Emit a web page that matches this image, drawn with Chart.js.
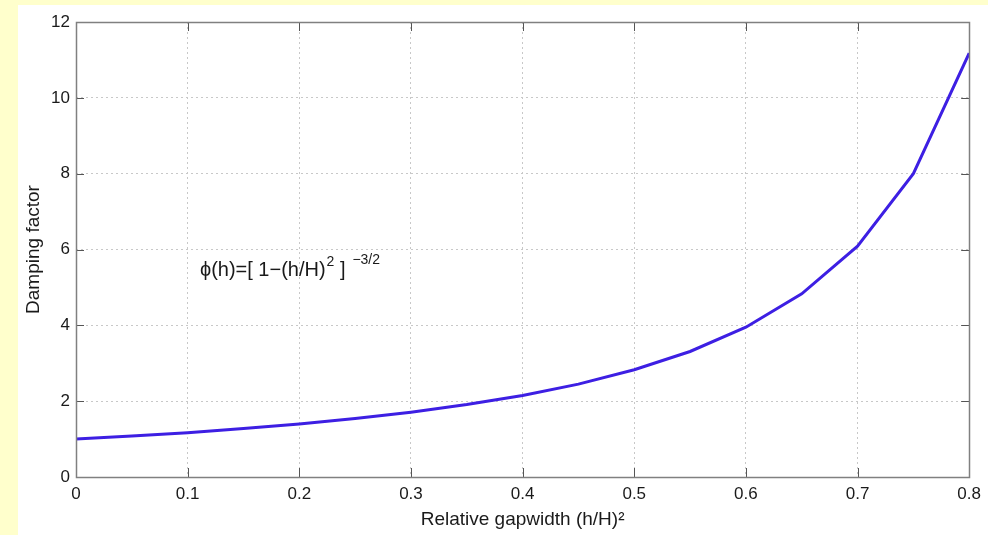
<!DOCTYPE html>
<html>
<head>
<meta charset="utf-8">
<script src="https://cdn.jsdelivr.net/npm/chart.js@4"></script>
<style>
  html, body { margin: 0; padding: 0; background: #ffffcc; }
  canvas { display: block; }
</style>
</head>
<body>
<canvas id="c" width="988" height="535"></canvas>
<script>
// ---- data ----
const gapWidth = [0, 0.05, 0.1, 0.15, 0.2, 0.25, 0.3, 0.35, 0.4, 0.45, 0.5, 0.55, 0.6, 0.65, 0.7, 0.75, 0.8];
const dampingFactor = [1.00, 1.08, 1.17, 1.28, 1.40, 1.54, 1.71, 1.91, 2.15, 2.45, 2.83, 3.31, 3.95, 4.83, 6.09, 8.00, 11.18];
const xTickLabels = ['0', '0.1', '0.2', '0.3', '0.4', '0.5', '0.6', '0.7', '0.8'];
const yTickLabels = ['0', '2', '4', '6', '8', '10', '12'];
const xTitle = 'Relative gapwidth (h/H)\u00B2';
const yTitle = 'Damping factor';
const annotationMain = '\u03D5(h)=[ 1\u2212(h/H)';
const annotationSup1 = '2';
const annotationMid = ' ]';
const annotationSup2 = ' \u22123/2';

const FONT = '"Liberation Sans", Arial, Helvetica, sans-serif';
const TEXT_COLOR = '#1a1a1a';

const decor = {
  id: 'decor',
  beforeDraw(chart) {
    const ctx = chart.ctx;
    ctx.save();
    ctx.fillStyle = '#ffffcc';
    ctx.fillRect(0, 0, chart.width, chart.height);
    ctx.fillStyle = '#ffffff';
    ctx.fillRect(18, 5, chart.width - 18, chart.height - 5);
    ctx.restore();
  },
  afterDraw(chart) {
    const ctx = chart.ctx;
    const a = chart.chartArea;
    const xs = chart.scales.x, ys = chart.scales.y;
    ctx.save();
    // inward ticks
    ctx.strokeStyle = '#555555';
    ctx.lineWidth = 1;
    ctx.beginPath();
    xs.ticks.forEach(t => {
      const px = Math.round(xs.getPixelForValue(t.value)) + 0.5;
      ctx.moveTo(px, a.bottom); ctx.lineTo(px, a.bottom - 9);
      ctx.moveTo(px, a.top); ctx.lineTo(px, a.top + 9);
    });
    ys.ticks.forEach(t => {
      const py = Math.round(ys.getPixelForValue(t.value)) + 0.5;
      ctx.moveTo(a.left, py); ctx.lineTo(a.left + 8, py);
      ctx.moveTo(a.right, py); ctx.lineTo(a.right - 8, py);
    });
    ctx.stroke();
    // frame
    ctx.strokeStyle = '#808080';
    ctx.lineWidth = 1.5;
    ctx.strokeRect(Math.round(a.left) + 0.5, Math.round(a.top) + 0.5,
                   Math.round(a.right - a.left), Math.round(a.bottom - a.top));
    // annotation (formula)
    let x = xs.getPixelForValue(0.111);
    const y = ys.getPixelForValue(5.3);
    ctx.fillStyle = TEXT_COLOR;
    ctx.textBaseline = 'alphabetic';
    ctx.textAlign = 'left';
    ctx.font = '20px ' + FONT;
    ctx.fillText(annotationMain, x, y);
    x += ctx.measureText(annotationMain).width + 1;
    ctx.font = '14px ' + FONT;
    ctx.fillText(annotationSup1, x, y - 10);
    x += ctx.measureText(annotationSup1).width;
    ctx.font = '20px ' + FONT;
    ctx.fillText(annotationMid, x, y);
    x += ctx.measureText(annotationMid).width + 3;
    ctx.font = '14px ' + FONT;
    ctx.fillText(annotationSup2, x, y - 12);
    ctx.restore();
  }
};

new Chart(document.getElementById('c'), {
  type: 'line',
  data: {
    datasets: [{
      data: gapWidth.map((g, i) => ({ x: g, y: dampingFactor[i] })),
      borderColor: '#3d1fe3',
      borderWidth: 3,
      pointRadius: 0,
      tension: 0,
      fill: false
    }]
  },
  options: {
    responsive: false,
    devicePixelRatio: 1,
    animation: false,
    layout: { padding: { left: 0, top: 22, right: 17, bottom: 0 } },
    plugins: { legend: { display: false }, tooltip: { enabled: false } },
    scales: {
      x: {
        type: 'linear',
        min: 0, max: 0.8,
        afterFit(s) { s.height = 58; },
        ticks: {
          stepSize: 0.1,
          padding: 7,
          maxRotation: 0,
          color: TEXT_COLOR,
          font: { family: FONT, size: 17 },
          callback: (v, i) => xTickLabels[i]
        },
        grid: { color: '#c8c8c8', lineWidth: 1, drawTicks: false },
        border: { display: false, dash: [2, 3] },
        title: {
          display: true, text: xTitle, color: TEXT_COLOR,
          font: { family: FONT, size: 19 },
          padding: { top: 0, bottom: 4 }
        }
      },
      y: {
        type: 'linear',
        min: 0, max: 12,
        afterFit(s) { s.width = 76; },
        ticks: {
          stepSize: 2,
          padding: 6,
          color: TEXT_COLOR,
          font: { family: FONT, size: 17 },
          callback: (v, i) => yTickLabels[i]
        },
        grid: { color: '#c8c8c8', lineWidth: 1, drawTicks: false },
        border: { display: false, dash: [2, 3] },
        title: {
          display: true, text: yTitle, color: TEXT_COLOR,
          font: { family: FONT, size: 19 },
          padding: { top: 22, bottom: 0 }
        }
      }
    }
  },
  plugins: [decor]
});
</script>
</body>
</html>
